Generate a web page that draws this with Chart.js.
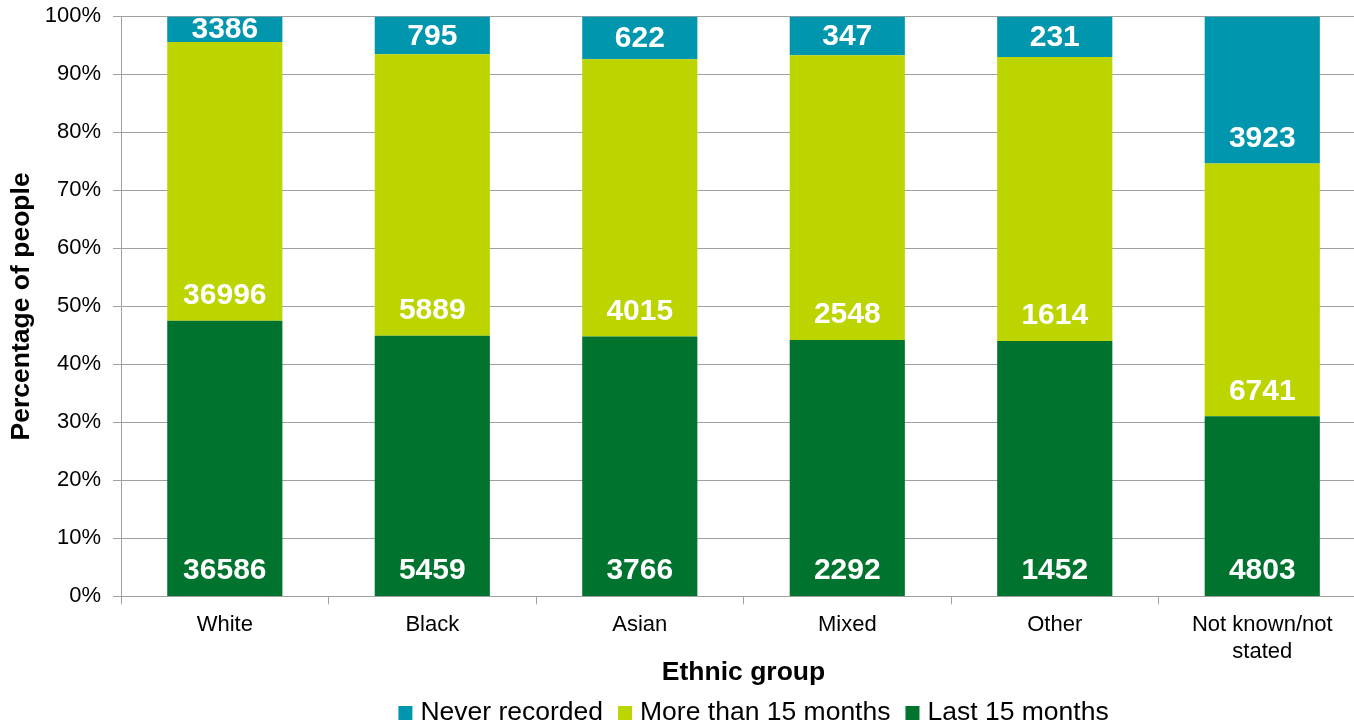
<!DOCTYPE html>
<html lang="en">
<head>
    <meta charset="UTF-8">
    <title>Ethnic group chart</title>
    <script src="https://cdn.jsdelivr.net/npm/chart.js"></script>
    <style>
        html, body { margin: 0; padding: 0; background: #fff; overflow: hidden; }
        .wrap { position: relative; width: 1366px; height: 727px; }
    </style>
</head>
<body>
    <div class="wrap">
        <canvas id="chart" width="1366" height="727"></canvas>
    </div>

    <script>
        // counts
        const groups = ['White', 'Black', 'Asian', 'Mixed', 'Other', ['Not known/not', 'stated']];
        const last15 = [36586, 5459, 3766, 2292, 1452, 4803];
        const more15 = [36996, 5889, 4015, 2548, 1614, 6741];
        const never = [3386, 795, 622, 347, 231, 3923];

        const totals = groups.map((g, i) => last15[i] + more15[i] + never[i]);
        const pct = arr => arr.map((v, i) => v / totals[i] * 100);

        const counts = [last15, more15, never];
        const FONT = '"Liberation Sans", Arial, sans-serif';

        // counts near the bottom of each segment (centred when the segment is small)
        const countLabels = {
            id: 'countLabels',
            afterDatasetsDraw(chart) {
                const ctx = chart.ctx;
                ctx.save();
                ctx.font = 'bold 30px ' + FONT;
                ctx.fillStyle = '#ffffff';
                ctx.textAlign = 'center';
                ctx.textBaseline = 'middle';
                chart.data.datasets.forEach((ds, di) => {
                    const meta = chart.getDatasetMeta(di);
                    meta.data.forEach((bar, i) => {
                        const y = Math.max(bar.base - 25, (bar.y + bar.base) / 2 + 1);
                        ctx.fillText(String(counts[di][i]), bar.x, y);
                    });
                });
                ctx.restore();
            }
        };

        // legend drawn by hand so box/text gaps match
        const bottomLegend = {
            id: 'bottomLegend',
            afterDraw(chart) {
                const ctx = chart.ctx;
                const items = chart.data.datasets.slice().reverse();
                const box = 14, gap = 8, sep = 15;
                ctx.save();
                ctx.font = '26.5px ' + FONT;
                ctx.textBaseline = 'middle';
                const widths = items.map(d => ctx.measureText(d.label).width);
                const total = widths.reduce((a, w) => a + box + gap + w, 0) + sep * (items.length - 1);
                const area = chart.chartArea;
                let x = (area.left + area.right) / 2 + 10 - total / 2;
                const y = 713;
                items.forEach((d, i) => {
                    ctx.fillStyle = d.backgroundColor;
                    ctx.fillRect(x, y - box / 2, box, box);
                    ctx.fillStyle = '#000';
                    ctx.fillText(d.label, x + box + gap, y);
                    x += box + gap + widths[i] + sep;
                });
                ctx.restore();
            }
        };

        const ctx = document.getElementById('chart').getContext('2d');
        new Chart(ctx, {
            type: 'bar',
            data: {
                labels: groups,
                datasets: [
                    { label: 'Last 15 months', data: pct(last15), backgroundColor: '#00742f' },
                    { label: 'More than 15 months', data: pct(more15), backgroundColor: '#bcd400' },
                    { label: 'Never recorded', data: pct(never), backgroundColor: '#0096ae' }
                ]
            },
            options: {
                responsive: false,
                animation: false,
                devicePixelRatio: 1,
                layout: { padding: { top: 0, left: 6, right: 0, bottom: 41 } },
                datasets: {
                    bar: { categoryPercentage: 1, barPercentage: 0.555 }
                },
                plugins: {
                    legend: { display: false },
                    tooltip: { enabled: false }
                },
                scales: {
                    x: {
                        stacked: true,
                        grid: { drawOnChartArea: false, offset: true, tickLength: 8, color: '#a0a0a0' },
                        border: { color: '#a0a0a0' },
                        ticks: {
                            color: '#000',
                            padding: 7,
                            maxRotation: 0,
                            font: { family: FONT, size: 22, lineHeight: 1.23 }
                        },
                        title: {
                            display: true,
                            text: 'Ethnic group',
                            color: '#000',
                            padding: { top: -13, bottom: 0 },
                            font: { family: FONT, size: 26.5, weight: 'bold', lineHeight: 1 }
                        }
                    },
                    y: {
                        stacked: true,
                        min: 0,
                        max: 100,
                        grid: { color: '#a0a0a0', tickLength: 8 },
                        border: { color: '#a0a0a0' },
                        ticks: {
                            stepSize: 10,
                            color: '#000',
                            padding: 12,
                            callback: v => v + '%',
                            // small line height keeps the 100% line near the top edge
                            font: { family: FONT, size: 22, lineHeight: 0.4 }
                        },
                        title: {
                            display: true,
                            text: 'Percentage of people',
                            color: '#000',
                            padding: { top: 0, bottom: -5 },
                            font: { family: FONT, size: 26.5, weight: 'bold' }
                        }
                    }
                }
            },
            plugins: [countLabels, bottomLegend]
        });
    </script>
</body>
</html>
